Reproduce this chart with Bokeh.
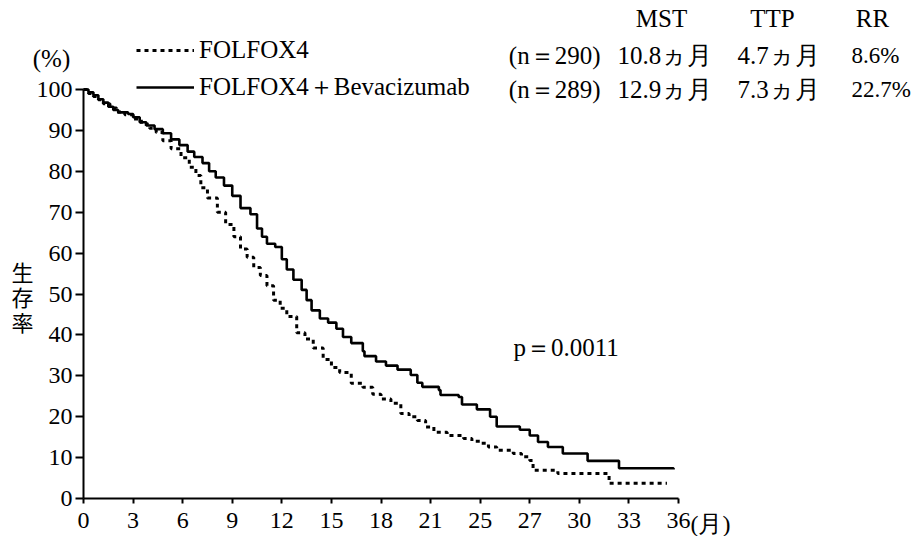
from bokeh.plotting import figure
from bokeh.models import Range1d, FixedTicker, Label, Legend, LegendItem
from bokeh.embed import file_html
from bokeh.resources import INLINE

# ---------------- data ----------------
# FOLFOX4 (dotted): Kaplan-Meier steps (month, survival %)
folfox_months = [0, 0.3, 0.6, 0.9, 1.2, 1.6, 2.0, 2.5, 3.0, 3.5, 4.0, 4.4, 4.8, 5.3,
                 5.9, 6.4, 6.8, 7.1, 7.5, 8.1, 8.6, 9.1, 9.5, 9.9, 10.3, 10.7, 11.1,
                 11.5, 11.9, 12.3, 12.9, 13.4, 13.9, 14.5, 15.0, 15.5, 16.2, 16.9,
                 17.5, 18.0, 18.6, 19.2, 19.7, 20.2, 20.7, 21.2, 22.0, 23.0, 23.5,
                 24.0, 24.5, 25.0, 26.0, 26.5, 27.0, 27.2, 28.7, 31.8, 35.3]
folfox_surv = [100, 99.0, 98.3, 97.5, 96.5, 95.5, 94.5, 93.8, 92.8, 91.5, 90.5, 89.5,
               87.5, 85.5, 83.3, 81.0, 79.0, 76.0, 73.5, 70.0, 67.0, 64.0, 61.0, 59.0,
               56.5, 54.5, 52.0, 48.5, 46.5, 44.5, 40.5, 39.0, 36.8, 34.0, 32.0, 30.8,
               28.2, 27.2, 25.5, 24.3, 23.3, 20.8, 20.0, 19.1, 17.5, 16.2, 15.4, 14.7,
               14.0, 13.5, 12.6, 11.8, 11.0, 10.2, 9.3, 6.9, 6.1, 3.7, 3.7]

# FOLFOX4 + Bevacizumab (solid)
bev_months = [0, 0.3, 0.6, 0.9, 1.2, 1.5, 1.8, 2.1, 2.7, 3.0, 3.4, 3.8, 4.3, 4.8, 5.3,
              5.8, 6.3, 6.7, 7.2, 7.6, 8.0, 8.5, 9.0, 9.5, 10.1, 10.5, 10.8, 11.1,
              11.6, 12.0, 12.3, 12.7, 13.2, 13.5, 13.8, 14.3, 14.8, 15.3, 15.7, 16.2,
              16.9, 17.0, 17.7, 18.3, 19.0, 19.8, 20.2, 20.5, 21.5, 21.6, 22.7, 22.9,
              23.8, 24.6, 25.0, 26.4, 27.0, 27.5, 28.1, 29.0, 30.5, 32.4, 35.7]
bev_surv = [100, 99.3, 98.6, 97.6, 96.8, 95.8, 95.0, 94.4, 94.0, 93.2, 92.0, 91.2,
            90.3, 89.3, 87.8, 86.4, 84.8, 83.5, 82.0, 80.0, 78.5, 76.5, 74.0, 71.0,
            69.5, 66.0, 64.0, 62.3, 61.5, 58.5, 56.0, 53.5, 51.0, 48.5, 46.0, 44.0,
            43.0, 41.5, 39.5, 38.0, 36.0, 34.8, 33.5, 32.5, 31.5, 30.2, 28.3, 27.3,
            26.5, 25.3, 24.8, 23.0, 21.8, 20.0, 17.6, 16.8, 15.4, 13.8, 12.6, 11.0,
            9.2, 7.4, 7.1]

x_tick_values = [0, 3, 6, 9, 12, 15, 18, 21, 24, 27, 30, 33, 36]
x_tick_labels = ["0", "3", "6", "9", "12", "15", "18", "21", "25", "27", "30", "33", "36"]
y_tick_values = [0, 10, 20, 30, 40, 50, 60, 70, 80, 90, 100]

series_names = ["FOLFOX4", "FOLFOX4＋Bevacizumab"]
n_labels = ["(n＝290)", "(n＝289)"]
table_headers = ["MST", "TTP", "RR"]
mst_values = ["10.8ヵ月", "12.9ヵ月"]
ttp_values = ["4.7ヵ月", "7.3ヵ月"]
rr_values = ["8.6%", "22.7%"]
p_value_text = "p＝0.0011"
y_unit = "(%)"
x_unit = "(月)"
y_title_chars = ["生", "存", "率"]

# ---------------- layout ----------------
W, H = 916, 536
# page pixels of the axes corners: x 0 -> 83, x 36 -> 678 ; y 100 -> 89, y 0 -> 498
AX0, AX36, AY100, AY0 = 83.0, 678.0, 89.0, 498.0
kx = (AX36 - AX0) / 36.0
ky = (AY0 - AY100) / 100.0
x_start, x_end = -AX0 / kx, (W - AX0) / kx
y_end, y_start = AY0 / ky, -(H - AY0) / ky

SERIF = "Liberation Serif"
CJK = "Noto Sans CJK JP"

p = figure(width=W, height=H, output_backend="svg", toolbar_location=None,
           x_range=Range1d(x_start, x_end), y_range=Range1d(y_start, y_end),
           min_border=0, min_border_left=0, min_border_right=0,
           min_border_top=0, min_border_bottom=0)
p.outline_line_color = None
p.grid.visible = False
p.background_fill_color = "white"
p.border_fill_color = "white"

for ax in (p.xaxis[0], p.yaxis[0]):
    ax.fixed_location = 0
    ax.axis_line_width = 2
    ax.axis_line_color = "black"
    ax.major_tick_line_width = 2
    ax.major_tick_line_color = "black"
    ax.minor_tick_line_color = None
    ax.major_tick_in = 0
    ax.major_label_text_font = SERIF
    ax.major_label_text_font_size = "24px"
    ax.major_label_text_color = "black"

p.xaxis[0].bounds = (0, 36)
p.xaxis[0].ticker = FixedTicker(ticks=x_tick_values)
p.xaxis[0].major_label_overrides = {v: t for v, t in zip(x_tick_values, x_tick_labels)}
p.xaxis[0].major_tick_out = 5
p.xaxis[0].major_label_standoff = 9
p.yaxis[0].bounds = (0, 100)
p.yaxis[0].ticker = FixedTicker(ticks=y_tick_values)
p.yaxis[0].major_tick_out = 8
p.yaxis[0].major_label_standoff = 3

r_fol = p.step(folfox_months, folfox_surv, mode="after", line_color="black",
               line_width=3, line_dash="4 4")
r_bev = p.step(bev_months, bev_surv, mode="after", line_color="black",
               line_width=2.6)

legend = Legend(items=[LegendItem(label=series_names[0], renderers=[r_fol]),
                       LegendItem(label=series_names[1], renderers=[r_bev])],
                location=(136, H - 103), orientation="vertical",
                glyph_width=58, glyph_height=30, label_height=30, spacing=5,
                padding=0, margin=0, label_standoff=5,
                border_line_color=None, background_fill_alpha=0,
                label_text_font=SERIF, label_text_font_size="25px",
                label_text_color="black")
p.add_layout(legend)


def dx(px):
    return (px - AX0) / kx


def dy(py):
    return (AY0 - py) / ky


def put(text, px, py, align="left", font=SERIF, size="25px"):
    p.add_layout(Label(x=dx(px), y=dy(py), text=text, text_align=align,
                       text_baseline="middle", text_font=font,
                       text_font_size=size, text_color="black"))


# table header and rows
for h, cx in zip(table_headers, [661, 772, 872]):
    put(h, cx, 18, align="center")
for i, ry in enumerate([55, 89]):
    put(n_labels[i], 600, ry, align="right")
    put(mst_values[i], 617, ry)
    put(ttp_values[i], 737, ry)
    put(rr_values[i], 851, ry, size="23px")

put(y_unit, 51, 58, align="center")
for ch, cy in zip(y_title_chars, [270, 295, 320]):
    put(ch, 22, cy, align="center", font=CJK, size="22px")
put(p_value_text, 513, 347)
put(x_unit, 690, 523, size="24px")

open("out.html", "w").write(file_html(p, INLINE))
